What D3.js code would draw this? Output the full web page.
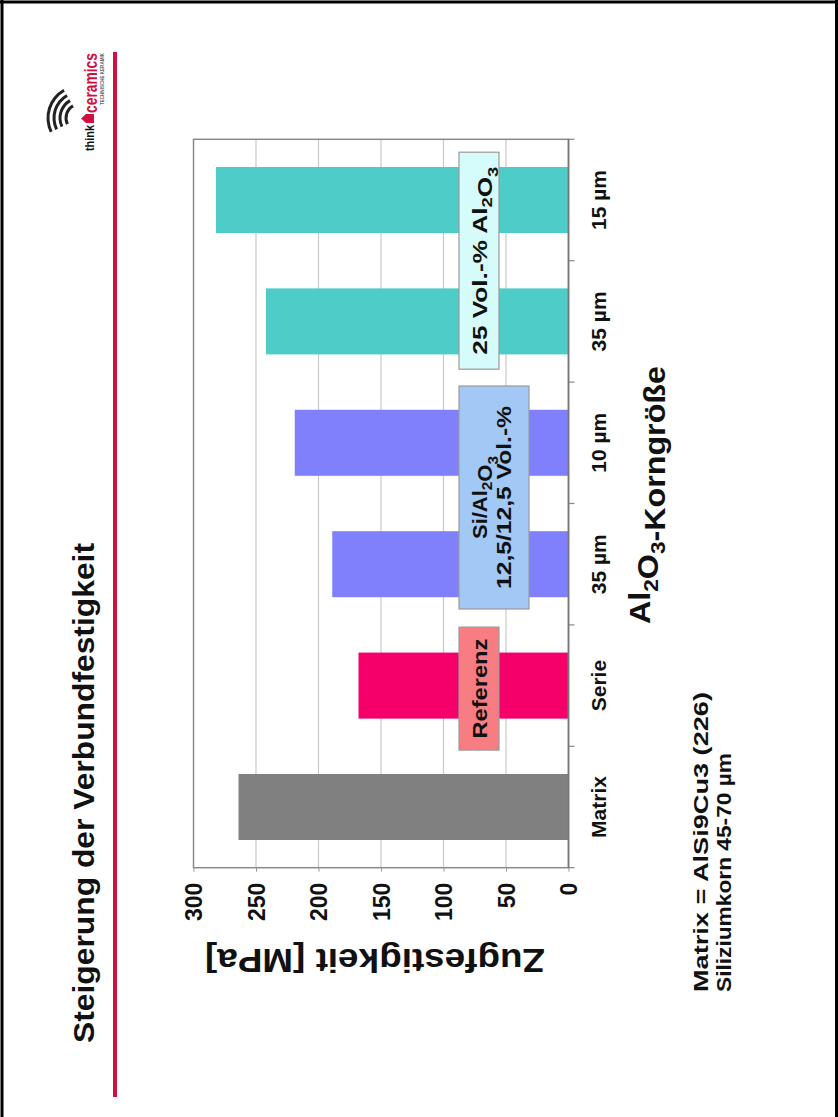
<!DOCTYPE html>
<html>
<head>
<meta charset="utf-8">
<script src="https://cdn.jsdelivr.net/npm/d3@7"></script>
<style>
  body { margin: 0; background: #fff; }
  svg { display: block; }
  text { font-family: "Liberation Sans", Arial, Helvetica, sans-serif; font-weight: bold; fill: #111; }
</style>
</head>
<body>
<svg id="chart" width="838" height="1117"></svg>
<script>
// ---- data ----
const categories = ["Matrix", "Serie", "35 µm", "10 µm", "35 µm", "15 µm"];
const values = [264, 168, 189, 219, 242, 282];          // Zugfestigkeit in MPa
const seriesOf = ["matrix", "referenz", "si", "si", "al", "al"];
const valueTicks = [0, 50, 100, 150, 200, 250, 300];
const groupKeys = ["referenz", "si", "al"];
const groupText = [["Referenz"], ["Si/Al_2O_3", "12,5/12,5 Vol.-%"], ["25 Vol.-% Al_2O_3"]];
const titleText = "Steigerung der Verbundfestigkeit";
const yTitleText = "Zugfestigkeit [MPa]";
const xTitleText = "Al_2O_3-Korngröße";
const noteLines = ["Matrix = AlSi9Cu3 (226)", "Siliziumkorn 45-70 µm"];

// ---- styles ----
const barColor = { matrix: "#808080", referenz: "#f5006a", si: "#8080fc", al: "#4ecdc8" };
const boxStyle = {
  referenz: { fill: "#f77d83", width: 123, height: 40, dx: -3, len: [100] },
  si:       { fill: "#a2c8f6", width: 223, height: 70, dx: 6,  len: [83, 183] },
  al:       { fill: "#d6fbfb", width: 217, height: 40, dx: 0,  len: [188] }
};

const svg = d3.select("#chart");

// outer frame of the page
const frame = svg.append("g").attr("stroke", "#000").attr("stroke-width", 3);
frame.append("line").attr("x1", 0).attr("x2", 838).attr("y1", 2).attr("y2", 2);
frame.append("line").attr("x1", 2).attr("x2", 2).attr("y1", 0).attr("y2", 1117);
frame.append("line").attr("x1", 836.5).attr("x2", 836.5).attr("y1", 0).attr("y2", 1117);

// the slide is laid out in landscape and turned a quarter turn
const slide = svg.append("g").attr("transform", "translate(0,1117) rotate(-90)");

// helper: writes text with "_n" parts as subscripts
function richText(sel, str, size) {
  const parts = str.split(/_(\d)/);
  parts.forEach((p, i) => {
    if (!p) return;
    if (i % 2 === 1) {
      sel.append("tspan").attr("font-size", size * 0.7).attr("dy", size * 0.25).text(p);
      sel.append("tspan").attr("font-size", size).attr("dy", -size * 0.25).text("");
    } else {
      sel.append("tspan").attr("font-size", size).text(p);
    }
  });
  return sel;
}

// ---- title + rule + logo ----
slide.append("text").attr("x", 74).attr("y", 94).attr("font-size", 30)
  .attr("textLength", 500).attr("lengthAdjust", "spacingAndGlyphs").text(titleText);
slide.append("line").attr("x1", 20).attr("x2", 1065).attr("y1", 115).attr("y2", 115)
  .attr("stroke", "#d01040").attr("stroke-width", 4);

const logo = slide.append("g");
const arc = d3.arc();
[14, 20, 26, 32].forEach(r => {
  logo.append("path")
    .attr("transform", "translate(999,80)")
    .attr("d", arc({ innerRadius: r - 1.5, outerRadius: r + 1.5, startAngle: -0.45, endAngle: 1.05 }))
    .attr("fill", "#222");
});
logo.append("text").attr("x", 966).attr("y", 94).attr("font-size", 13)
  .attr("textLength", 26).attr("lengthAdjust", "spacingAndGlyphs").text("think");
logo.append("path").attr("d", "M994,94 L994,86 L998.5,81 L1003,86 L1003,94 Z").attr("fill", "#d01040");
logo.append("text").attr("x", 1004).attr("y", 97).attr("font-size", 18).style("fill", "#d01040")
  .attr("textLength", 60).attr("lengthAdjust", "spacingAndGlyphs").text("ceramics");
logo.append("text").attr("x", 1012).attr("y", 104).attr("font-size", 5).attr("font-weight", "normal")
  .style("fill", "#666").attr("textLength", 52).attr("lengthAdjust", "spacingAndGlyphs").text("TECHNISCHE KERAMIK");

// ---- plot ----
const u0 = 249.3, u1 = 977.7;
const x = d3.scaleBand().domain(d3.range(categories.length)).range([u0, u1])
  .paddingInner(0.456).paddingOuter(0.228);
const y = d3.scaleLinear().domain([0, 300]).range([568.5, 193.5]);
const step = x.step();

// gridlines
slide.append("g").selectAll("line").data(valueTicks.filter(t => t > 0 && t < 300)).join("line")
  .attr("x1", u0).attr("x2", u1).attr("y1", d => y(d)).attr("y2", d => y(d))
  .attr("stroke", "#c9c9c9").attr("stroke-width", 1.2);

// bars
slide.append("g").selectAll("rect").data(values).join("rect")
  .attr("x", (d, i) => x(i)).attr("width", x.bandwidth())
  .attr("y", d => y(d)).attr("height", d => y(0) - y(d))
  .attr("fill", (d, i) => barColor[seriesOf[i]]);

// plot frame
slide.append("rect").attr("x", u0).attr("y", y(300)).attr("width", u1 - u0).attr("height", y(0) - y(300))
  .attr("fill", "none").attr("stroke", "#8a8a8a").attr("stroke-width", 1.5);

// value axis (left in the slide)
const yAxis = slide.append("g").attr("transform", `translate(${u0},0)`)
  .call(d3.axisLeft(y).tickValues(valueTicks).tickSize(4).tickPadding(11));
yAxis.select(".domain").remove();
yAxis.selectAll(".tick line").attr("stroke", "#999");
yAxis.selectAll(".tick text").attr("font-size", 23).attr("font-family", null).style("fill", "#111")
  .attr("dy", "0.36em");

// category axis (along the zero line)
const bounds = d3.range(categories.length + 1).map(k => u0 + k * step);
slide.append("g").selectAll("line").data(bounds).join("line")
  .attr("x1", d => d).attr("x2", d => d).attr("y1", y(0)).attr("y2", y(0) + 6)
  .attr("stroke", "#888").attr("stroke-width", 1.2);
slide.append("line").attr("x1", u0).attr("x2", u1).attr("y1", y(0)).attr("y2", y(0))
  .attr("stroke", "#777").attr("stroke-width", 1.6);
slide.append("g").selectAll("text").data(categories).join("text")
  .attr("x", (d, i) => x(i) + x.bandwidth() / 2).attr("y", 606)
  .attr("text-anchor", "middle").attr("font-size", 21).text(d => d);

// group labels
groupKeys.forEach((key, gi) => {
  const idx = d3.range(categories.length).filter(i => seriesOf[i] === key);
  const st = boxStyle[key];
  const cu = d3.mean(idx, i => x(i) + x.bandwidth() / 2) + st.dx;
  const top = 459;
  slide.append("rect").attr("x", cu - st.width / 2).attr("y", top)
    .attr("width", st.width).attr("height", st.height)
    .attr("fill", st.fill).attr("stroke", "#9a9a9a").attr("stroke-width", 1.2);
  const lines = groupText[gi];
  lines.forEach((ln, li) => {
    const t = slide.append("text").attr("x", cu).attr("text-anchor", "middle")
      .attr("y", top + 28 + li * 24)
      .attr("textLength", st.len[li]).attr("lengthAdjust", "spacingAndGlyphs");
    richText(t, ln, 21);
  });
});

// axis titles
const xt = slide.append("text").attr("x", 622).attr("y", 650).attr("text-anchor", "middle")
  .attr("textLength", 258).attr("lengthAdjust", "spacingAndGlyphs");
richText(xt, xTitleText, 30);

slide.append("text").attr("transform", "translate(168,375) rotate(-90)")
  .attr("text-anchor", "middle").attr("font-size", 34)
  .attr("textLength", 340).attr("lengthAdjust", "spacingAndGlyphs").text(yTitleText);

// footnote
slide.append("g").selectAll("text").data(noteLines).join("text")
  .attr("x", 125).attr("y", (d, i) => 708 + i * 23).attr("font-size", 21)
  .attr("textLength", (d, i) => [300, 239][i]).attr("lengthAdjust", "spacingAndGlyphs")
  .text(d => d);
</script>
</body>
</html>
